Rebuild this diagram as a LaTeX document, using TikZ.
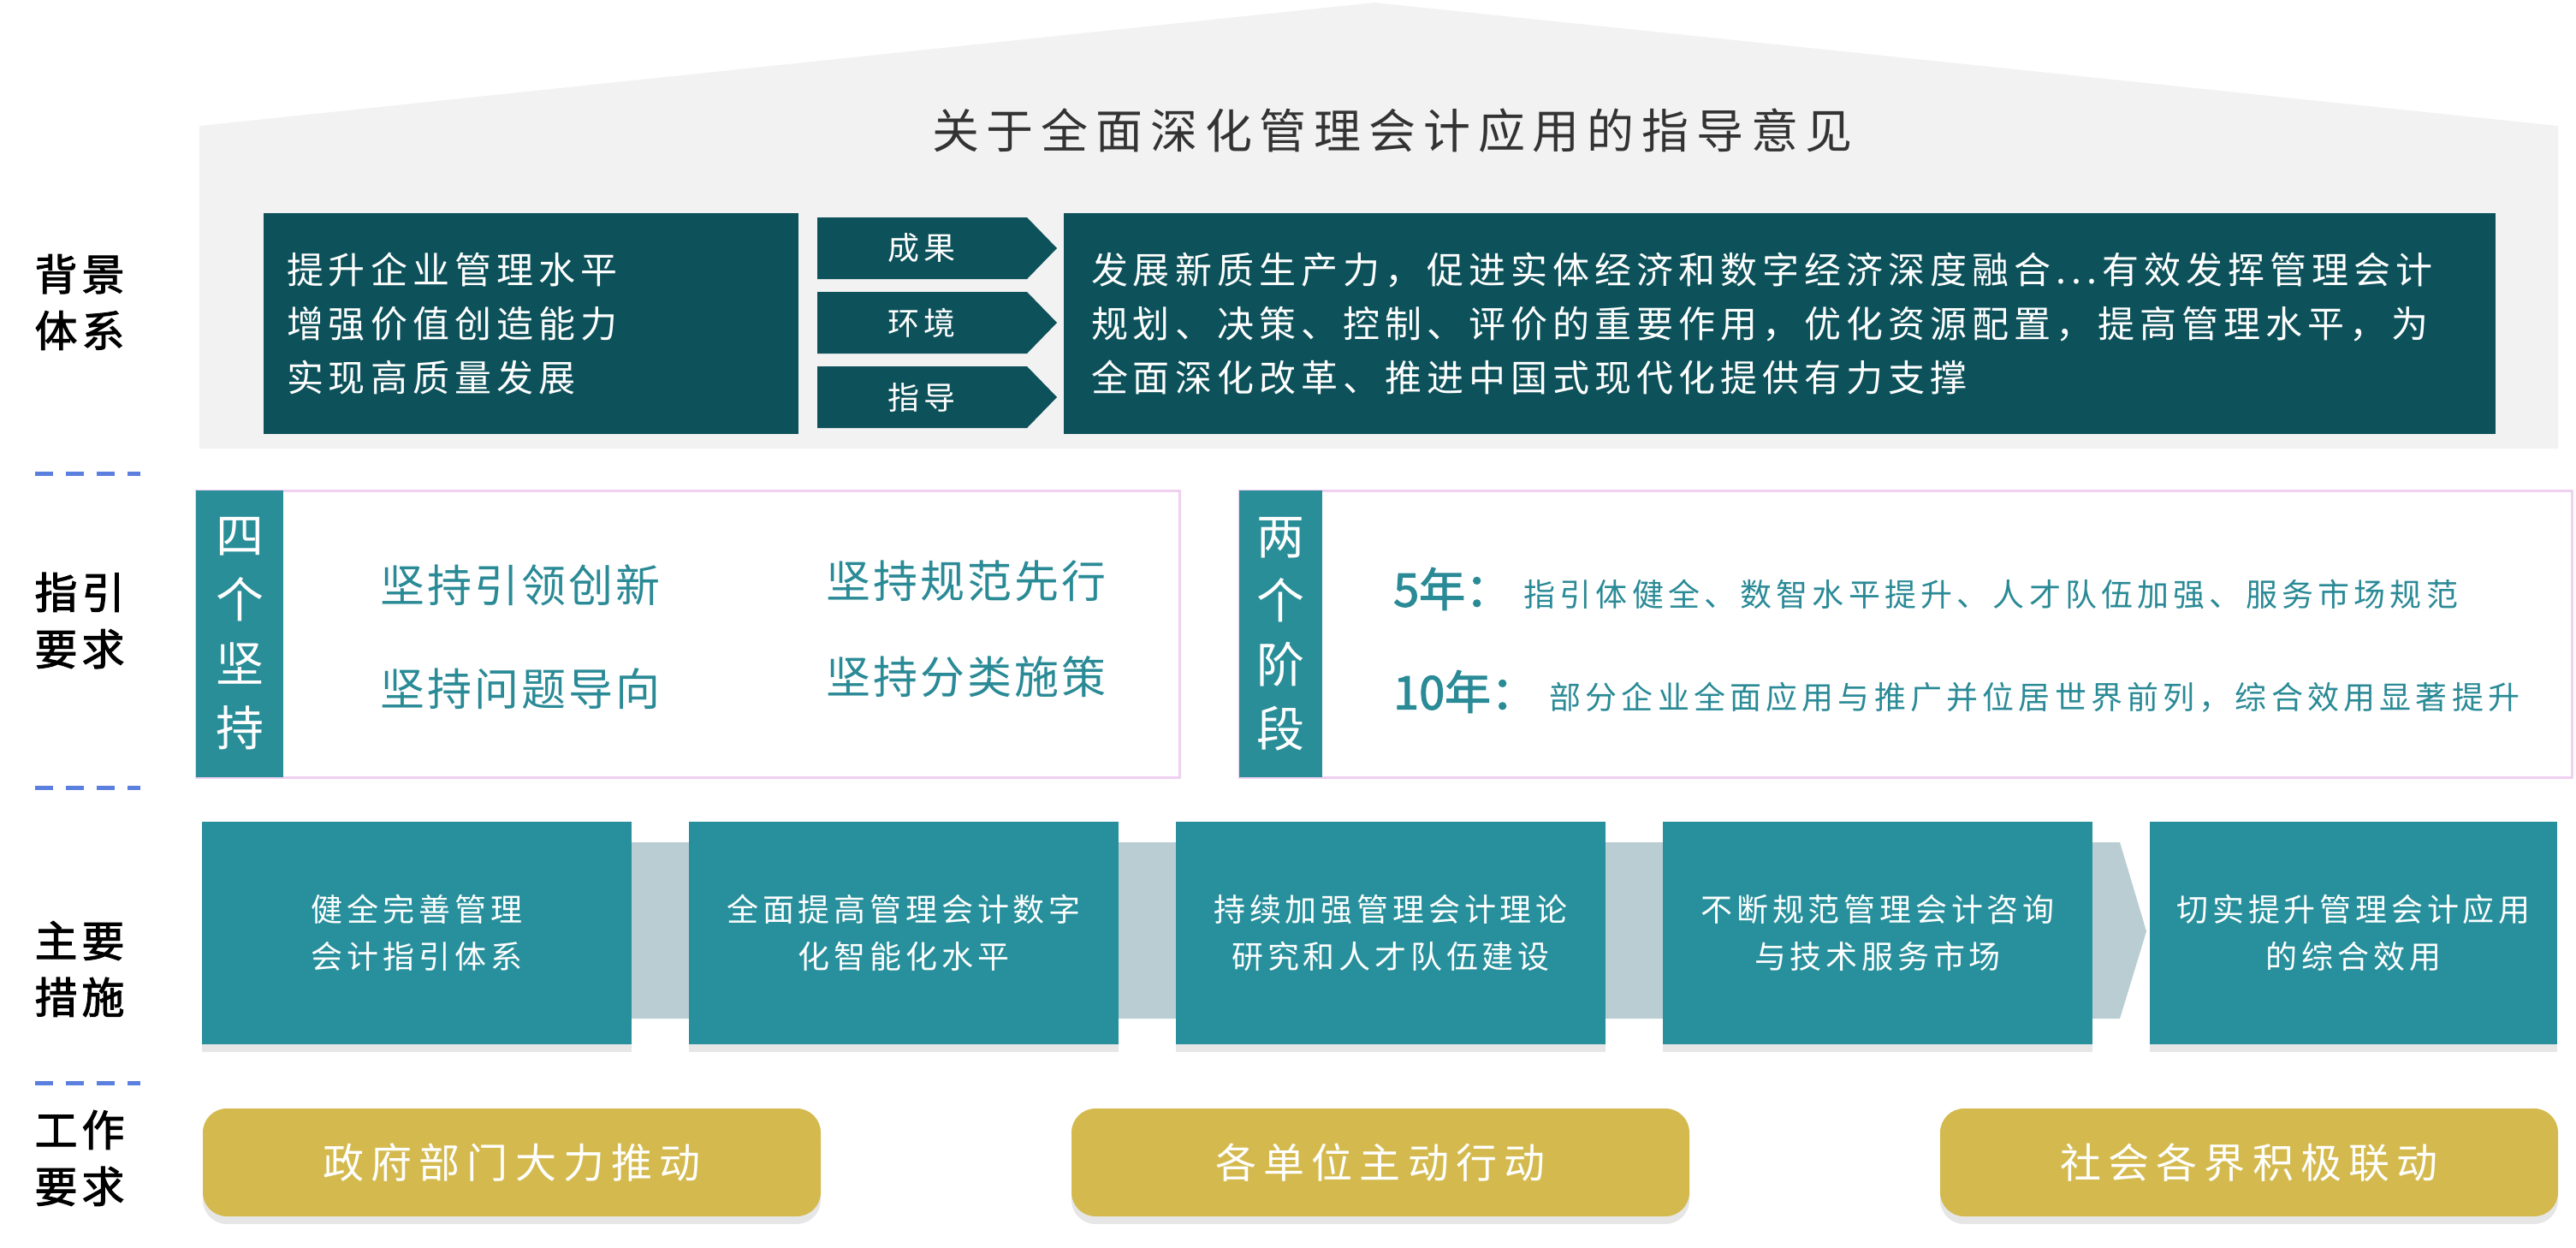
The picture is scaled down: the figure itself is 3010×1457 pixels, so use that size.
\documentclass[tikz,border=0pt]{standalone}
\usepackage{fontspec}
\setmainfont{Noto Sans CJK SC}
\newfontfamily\boldcjk{Noto Sans CJK SC}[FakeBold=2]
\usetikzlibrary{positioning, calc, shadows, backgrounds}

\definecolor{darkteal}{HTML}{0D525B}
\definecolor{midteal}{HTML}{27909C}
\definecolor{stripteal}{HTML}{2A8E99}
\definecolor{textteal}{HTML}{2A8A96}
\definecolor{goldfill}{HTML}{D4BA4E}
\definecolor{bandgray}{HTML}{B9CDD3}
\definecolor{housegray}{HTML}{F2F2F2}
\definecolor{pinkline}{HTML}{F0D0F0}
\definecolor{dashblue}{HTML}{5B7FDF}
\definecolor{titlegray}{HTML}{333333}

\newcommand{\fsz}[3]{\fontsize{#1}{#2}\selectfont\addfontfeature{LetterSpace=#3}}

\begin{document}
\begin{tikzpicture}
    [x=1pt, y=-1pt,
    titletext/.style={text=titlegray, inner sep=0pt, font=\fsz{55}{60}{16}},
    sidelabel/.style={align=center, inner sep=0pt, font=\boldcjk\fsz{50}{66}{10}},
    sepline/.style={dashblue, line width=5pt, dash pattern=on 21pt off 15pt},
    darkbox/.style={rectangle, fill=darkteal, text=white, inner sep=0pt, outer sep=0pt, align=left, minimum height=258pt, font=\fsz{43}{63}{14}},
    arrowtext/.style={text=white, inner sep=0pt, font=\fsz{37}{40}{11}},
    pinkframe/.style={rectangle, draw=pinkline, line width=3pt, fill=white, outer sep=0pt, minimum height=335pt},
    stripbox/.style={rectangle, fill=stripteal, text=white, align=center, inner sep=0pt, outer sep=0pt, minimum height=335pt, font=\fsz{56}{75}{0}},
    itemtext/.style={text=textteal, inner sep=0pt, font=\fsz{52}{60}{6}},
    yeartext/.style={text=textteal, inner sep=0pt, font=\boldcjk\fsz{54}{60}{0}},
    stagetext/.style={text=textteal, inner sep=0pt, font=\fsz{37}{45}{14}},
    stepbox/.style={rectangle, fill=midteal, text=white, align=center, inner sep=0pt, outer sep=0pt, minimum width=502pt, minimum height=260pt, font=\fsz{37}{55}{13},
        drop shadow={shadow xshift=0pt, shadow yshift=-9pt, opacity=0.2}},
    actionbox/.style={rectangle, rounded corners=28pt, fill=goldfill, text=white, inner sep=0pt, outer sep=0pt, minimum width=722pt, minimum height=126pt, font=\fsz{48}{56}{17},
        drop shadow={shadow xshift=0pt, shadow yshift=-9pt, opacity=0.2}},]

    \useasboundingbox (0,0) rectangle (3010,1457);

    %House
    \filldraw[fill=housegray, draw=black!5, line width=2pt] (234,523) -- (234,148) -- (1606,4) -- (2988,148) -- (2988,523) -- cycle;
    \node[titletext] (title) at (1627,152) {关于全面深化管理会计应用的指导意见};

    %Side labels
    \node[sidelabel] (lbg) at (93,353) {背景\\体系};
    \node[sidelabel] (lgd) at (93,725) {指引\\要求};
    \node[sidelabel] (lms) at (93,1132) {主要\\措施};
    \node[sidelabel] (lwk) at (93,1353) {工作\\要求};
    \foreach \y in {553,920,1265}
        \draw[sepline] (41,\y) -- (164,\y);

    %Background
    \node[darkbox, minimum width=625pt, text width=571pt, inner xsep=27pt, anchor=north west] (goal) at (308,249)
        {提升企业管理水平\\增强价值创造能力\\实现高质量发展};
    \foreach \lab [count=\i] in {成果,环境,指导}{
        \pgfmathsetmacro{\cy}{203+87*\i}
        \fill[darkteal] (955,\cy-36) -- (1200,\cy-36) -- (1235,\cy) -- (1200,\cy+36) -- (955,\cy+36) -- cycle;
        \node[arrowtext] (arrow\i) at (1077,\cy) {\lab};
    }
    \node[darkbox, minimum width=1673pt, text width=1609pt, inner xsep=32pt, anchor=north west] (effect) at (1243,249)
        {发展新质生产力，促进实体经济和数字经济深度融合...有效发挥管理会计\\
         规划、决策、控制、评价的重要作用，优化资源配置，提高管理水平，为\\
         全面深化改革、推进中国式现代化提供有力支撑};

    %Four principles
    \node[pinkframe, minimum width=1149pt, anchor=north west] (fourframe) at (229,573) {};
    \node[stripbox, minimum width=102pt, anchor=north west] (fourstrip) at (fourframe.north west) {四\\个\\坚\\持};
    \node[itemtext, anchor=west] (item1) at (444,684) {坚持引领创新};
    \node[itemtext, anchor=west] (item2) at (965,679) {坚持规范先行};
    \node[itemtext, anchor=west] (item3) at (444,805) {坚持问题导向};
    \node[itemtext, anchor=west] (item4) at (965,791) {坚持分类施策};

    %Two stages
    \node[pinkframe, minimum width=1557pt, anchor=north west] (twoframe) at (1448,573) {};
    \node[stripbox, minimum width=97pt, anchor=north west] (twostrip) at (twoframe.north west) {两\\个\\阶\\段};
    \node[yeartext, anchor=west] (five) at (1628,688) {5年：};
    \node[stagetext, base right=14pt of five] (fivetext) {指引体健全、数智水平提升、人才队伍加强、服务市场规范};
    \node[yeartext, anchor=west] (ten) at (1628,808) {10年：};
    \node[stagetext, base right=14pt of ten] (tentext) {部分企业全面应用与推广并位居世界前列，综合效用显著提升};

    %Measures
    \node[stepbox] (b1) at (487,1090) {健全完善管理\\会计指引体系};
    \node[stepbox, right=67pt of b1] (b2) {全面提高管理会计数字\\化智能化水平};
    \node[stepbox, right=67pt of b2] (b3) {持续加强管理会计理论\\研究和人才队伍建设};
    \node[stepbox, right=67pt of b3] (b4) {不断规范管理会计咨询\\与技术服务市场};
    \node[stepbox, right=67pt of b4, minimum width=476pt] (b5) {切实提升管理会计应用\\的综合效用};
    \begin{scope}[on background layer]
        \fill[bandgray] ($(b1.center)+(0,-106)$) -- ($(b4.east)+(32,-106)$) -- ($(b4.east)+(63,-2)$)
            -- ($(b4.east)+(32,100)$) -- ($(b1.center)+(0,100)$) -- cycle;
    \end{scope}

    %Work requirements
    \node[actionbox] (g1) at (598,1358) {政府部门大力推动};
    \node[actionbox, right=293pt of g1] (g2) {各单位主动行动};
    \node[actionbox, right=293pt of g2] (g3) {社会各界积极联动};

\end{tikzpicture}
\end{document}
